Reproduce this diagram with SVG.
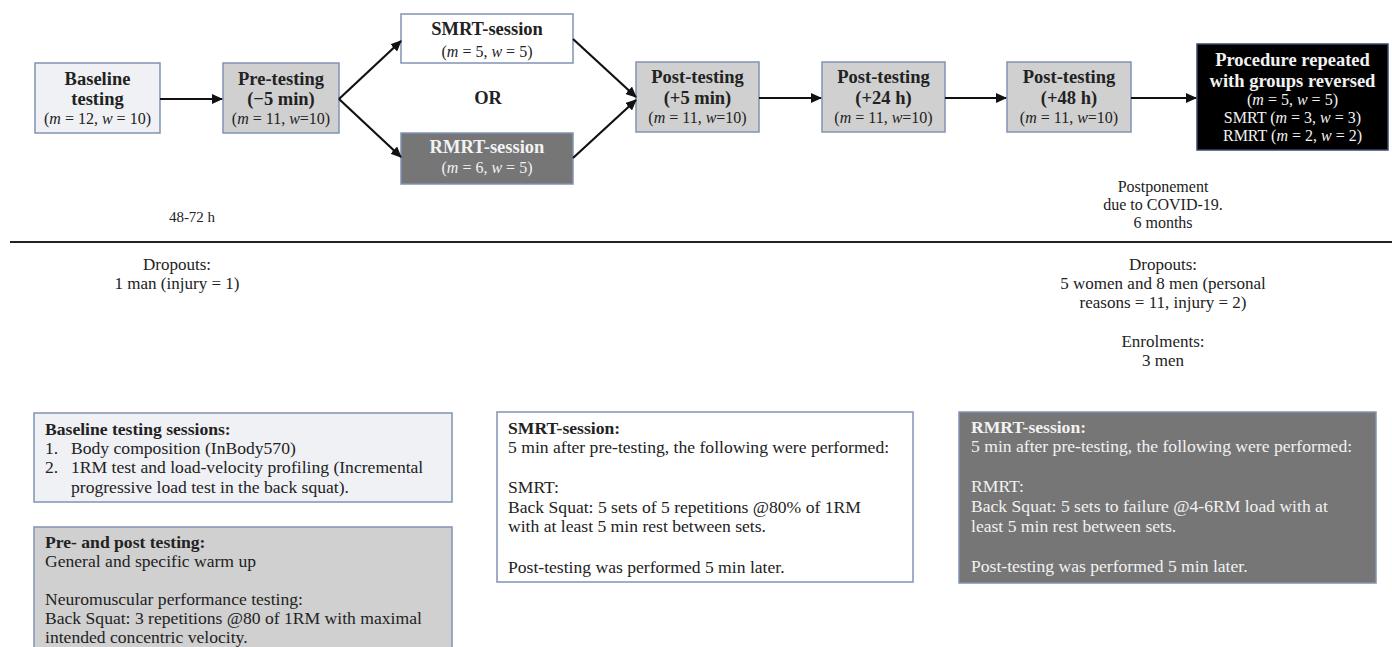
<svg xmlns="http://www.w3.org/2000/svg" width="1392" height="647" viewBox="0 0 1392 647">
<style>
text{font-family:"Liberation Serif","Times New Roman",serif;fill:#222}
.b{font-weight:bold;font-size:18.5px}
.s{font-size:16px}
.c{text-anchor:middle}
.i{font-style:italic}
.p{font-size:17px}
.q{font-size:17.6px}
.lt text,text.lt{fill:#f2f2f2}
.light{fill:#eff1f5;stroke:#8093b3;stroke-width:1.5}
.grey{fill:#d0d0d0;stroke:#8093b3;stroke-width:1.5}
.white{fill:#ffffff;stroke:#8093b3;stroke-width:1.5}
.dark{fill:#767676;stroke:#8093b3;stroke-width:1.5}
.black{fill:#000000;stroke:#3a4a6a;stroke-width:1.5}
.conn line{stroke:#111;stroke-width:2.2;fill:none}
</style>
<defs>
<marker id="ah" markerUnits="userSpaceOnUse" markerWidth="11" markerHeight="10" refX="10" refY="5" orient="auto">
<path d="M0,0 L11,5 L0,10 z" fill="#111"/>
</marker>
</defs>
<rect width="1392" height="647" fill="#ffffff"/>

<g id="baseline">
<rect class="light" x="35" y="63" width="125" height="70"/>
<text class="b c" x="97.5" y="85">Baseline</text>
<text class="b c" x="97.5" y="105">testing</text>
<text class="s c" x="97.5" y="124">(<tspan class="i">m</tspan> = 12, <tspan class="i">w</tspan> = 10)</text>
</g>
<g id="pretesting">
<rect class="grey" x="223" y="63" width="116" height="70"/>
<text class="b c" x="281" y="85">Pre-testing</text>
<text class="b c" x="281" y="105">(−5 min)</text>
<text class="s c" x="281" y="124">(<tspan class="i">m</tspan> = 11, <tspan class="i">w</tspan>=10)</text>
</g>
<g id="smrt">
<rect class="white" x="401" y="14" width="172" height="49"/>
<text class="b c" x="487" y="35">SMRT-session</text>
<text class="s c" x="487" y="57">(<tspan class="i">m</tspan> = 5, <tspan class="i">w</tspan> = 5)</text>
</g>
<g id="or">
<text class="b c" x="488" y="104">OR</text>
</g>
<g id="rmrt" class="lt">
<rect class="dark" x="401" y="133" width="172" height="51"/>
<text class="b c" x="487" y="153">RMRT-session</text>
<text class="s c" x="487" y="173">(<tspan class="i">m</tspan> = 6, <tspan class="i">w</tspan> = 5)</text>
</g>
<g id="post5">
<rect class="grey" x="636" y="62" width="123" height="70"/>
<text class="b c" x="697.5" y="83">Post-testing</text>
<text class="b c" x="697.5" y="104">(+5 min)</text>
<text class="s c" x="697.5" y="123">(<tspan class="i">m</tspan> = 11, <tspan class="i">w</tspan>=10)</text>
</g>
<g id="post24">
<rect class="grey" x="822" y="62" width="123" height="70"/>
<text class="b c" x="883.5" y="83">Post-testing</text>
<text class="b c" x="883.5" y="104">(+24 h)</text>
<text class="s c" x="883.5" y="123">(<tspan class="i">m</tspan> = 11, <tspan class="i">w</tspan>=10)</text>
</g>
<g id="post48">
<rect class="grey" x="1007" y="62" width="124" height="70"/>
<text class="b c" x="1069" y="83">Post-testing</text>
<text class="b c" x="1069" y="104">(+48 h)</text>
<text class="s c" x="1069" y="123">(<tspan class="i">m</tspan> = 11, <tspan class="i">w</tspan>=10)</text>
</g>
<g id="repeated" class="lt">
<rect class="black" x="1197" y="44" width="191" height="106"/>
<text class="b c" x="1292.5" y="66">Procedure repeated</text>
<text class="b c" x="1292.5" y="87">with groups reversed</text>
<text class="s c" x="1292.5" y="105">(<tspan class="i">m</tspan> = 5, <tspan class="i">w</tspan> = 5)</text>
<text class="s c" x="1292.5" y="123">SMRT (<tspan class="i">m</tspan> = 3, <tspan class="i">w</tspan> = 3)</text>
<text class="s c" x="1292.5" y="141">RMRT (<tspan class="i">m</tspan> = 2, <tspan class="i">w</tspan> = 2)</text>
</g>

<g id="connectors" class="conn">
<line x1="160" y1="99" x2="222" y2="99" marker-end="url(#ah)"/>
<line x1="339" y1="99" x2="401" y2="41" marker-end="url(#ah)"/>
<line x1="339" y1="99" x2="401" y2="157" marker-end="url(#ah)"/>
<line x1="573" y1="39" x2="636" y2="97" marker-end="url(#ah)"/>
<line x1="573" y1="158" x2="636" y2="100" marker-end="url(#ah)"/>
<line x1="759" y1="98" x2="821" y2="98" marker-end="url(#ah)"/>
<line x1="945" y1="98" x2="1006" y2="98" marker-end="url(#ah)"/>
<line x1="1131" y1="98" x2="1196" y2="98" marker-end="url(#ah)"/>
</g>

<g id="timeline">
<line x1="10" y1="242" x2="1392" y2="242" stroke="#222" stroke-width="2"/>
<text class="c" x="192" y="222" font-size="15">48-72 h</text>
<text class="c p" x="177" y="270">Dropouts:</text>
<text class="c p" x="177" y="289">1 man (injury = 1)</text>
<text class="c s" x="1163" y="192">Postponement</text>
<text class="c s" x="1163" y="210">due to COVID-19.</text>
<text class="c s" x="1163" y="228">6 months</text>
<text class="c p" x="1163" y="270">Dropouts:</text>
<text class="c p" x="1163" y="289">5 women and 8 men (personal</text>
<text class="c p" x="1163" y="308">reasons = 11, injury = 2)</text>
<text class="c p" x="1163" y="347">Enrolments:</text>
<text class="c p" x="1163" y="366">3 men</text>
</g>

<g id="baseline-sessions">
<rect class="light" x="34" y="413" width="418" height="89"/>
<text class="q" x="45" y="435" font-weight="bold">Baseline testing sessions:</text>
<text class="q" x="45" y="454">1.</text>
<text class="q" x="71" y="454">Body composition (InBody570)</text>
<text class="q" x="45" y="473">2.</text>
<text class="q" x="71" y="473">1RM test and load-velocity profiling (Incremental</text>
<text class="q" x="71" y="493">progressive load test in the back squat).</text>
</g>
<g id="prepost-box">
<rect class="grey" x="34" y="527" width="418" height="140"/>
<text class="q" x="45" y="548" font-weight="bold">Pre- and post testing:</text>
<text class="q" x="45" y="567">General and specific warm up</text>
<text class="q" x="45" y="605">Neuromuscular performance testing:</text>
<text class="q" x="45" y="624">Back Squat: 3 repetitions @80 of 1RM with maximal</text>
<text class="q" x="45" y="643">intended concentric velocity.</text>
</g>
<g id="smrt-box">
<rect class="white" x="497" y="412" width="416" height="170"/>
<text class="q" x="508" y="434" font-weight="bold">SMRT-session:</text>
<text class="q" x="508" y="453">5 min after pre-testing, the following were performed:</text>
<text class="q" x="508" y="493">SMRT:</text>
<text class="q" x="508" y="513">Back Squat: 5 sets of 5 repetitions @80% of 1RM</text>
<text class="q" x="508" y="532">with at least 5 min rest between sets.</text>
<text class="q" x="508" y="573">Post-testing was performed 5 min later.</text>
</g>
<g id="rmrt-box" class="lt">
<rect class="dark" x="959" y="412" width="417" height="171"/>
<text class="q" x="971" y="433" font-weight="bold">RMRT-session:</text>
<text class="q" x="971" y="452">5 min after pre-testing, the following were performed:</text>
<text class="q" x="971" y="492">RMRT:</text>
<text class="q" x="971" y="512">Back Squat: 5 sets to failure @4-6RM load with at</text>
<text class="q" x="971" y="532">least 5 min rest between sets.</text>
<text class="q" x="971" y="572">Post-testing was performed 5 min later.</text>
</g>
</svg>
